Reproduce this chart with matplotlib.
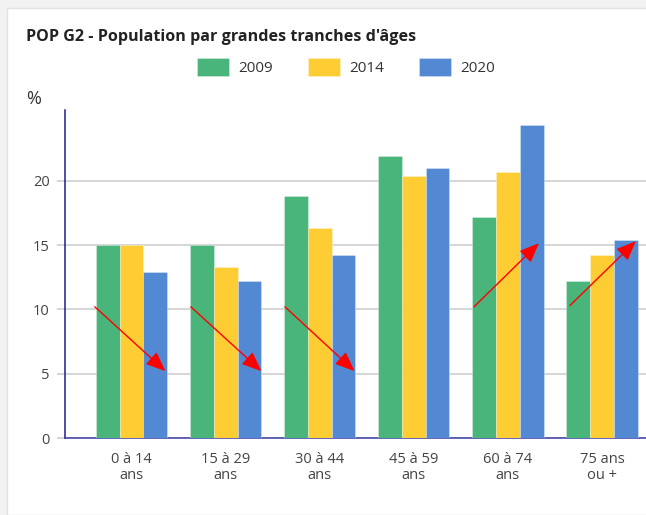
import numpy as np
import matplotlib.pyplot as plt
import matplotlib.patheffects as pe
from matplotlib.patches import Rectangle

# Data
categories = ["0 à 14\nans", "15 à 29\nans", "30 à 44\nans", "45 à 59\nans", "60 à 74\nans", "75 ans\nou +"]
years = ["2009", "2014", "2020"]
v2009 = [15.0, 15.0, 18.8, 21.9, 17.2, 12.2]
v2014 = [15.0, 13.3, 16.3, 20.4, 20.7, 14.2]
v2020 = [12.9, 12.2, 14.2, 21.0, 24.3, 15.4]
colors = ["#4ab57a", "#fecd34", "#5289d2"]

# trend arrows (x in category units, y in %)
arrow_starts = [(-0.39, 10.2), (0.63, 10.2), (1.63, 10.2), (3.64, 10.2), (4.66, 10.3)]
arrow_ends = [(0.36, 5.2), (1.38, 5.2), (2.37, 5.2), (4.33, 15.15), (5.36, 15.3)]

plt.rcParams['font.family'] = ['Open Sans', 'DejaVu Sans']

fig = plt.figure(figsize=(6.46, 5.15), dpi=100, facecolor='#f2f2f2')
# white card behind everything
fig.patches.append(Rectangle((7 / 646, 0), 1, 1 - 8 / 515, transform=fig.transFigure,
                             facecolor='white', edgecolor='#e2e2e2', linewidth=1, zorder=-10))

ax = fig.add_axes([65 / 646, 77 / 515, 1 - 65 / 646, 328 / 515])
ax.set_facecolor('none')

x = np.arange(len(categories))
w = 0.253
for i, (vals, c, lab) in enumerate(zip([v2009, v2014, v2020], colors, years)):
    ax.bar(x + (i - 1) * w, vals, width=w, color=c, label=lab,
           edgecolor=(1, 1, 1, 0.3), linewidth=0.7, zorder=3)

for s, e in zip(arrow_starts, arrow_ends):
    ax.annotate("", xy=e, xytext=s, zorder=5,
                arrowprops=dict(arrowstyle='-|>,head_length=0.8,head_width=0.33',
                                mutation_scale=15, color='#ff0000', lw=1.0,
                                shrinkA=0, shrinkB=0,
                                path_effects=[pe.withSimplePatchShadow(offset=(1.5, -2),
                                                                       shadow_rgbFace='#888888',
                                                                       alpha=0.25)]))

ax.set_xlim(-0.707, 5.468)
ax.set_ylim(0, 25.5)
ax.set_yticks([0, 5, 10, 15, 20])
ax.set_xticks(x)
ax.set_xticklabels(categories, linespacing=1.1)
ax.grid(axis='y', color='#cccccc', linewidth=1.1, zorder=0)
ax.set_axisbelow(True)

for sp in ['top', 'right']:
    ax.spines[sp].set_visible(False)
ax.spines['left'].set_color('#1c1c96')
ax.spines['bottom'].set_color('#3b3ba6')
ax.spines['left'].set_linewidth(1.1)
ax.spines['bottom'].set_linewidth(1.1)

ax.tick_params(axis='y', length=6, color='#cccccc', width=1.1, pad=5, labelsize=10.5, labelcolor='#444444')
ax.tick_params(axis='x', length=0, pad=10, labelsize=10.5, labelcolor='#444444')

fig.text(26 / 646, 1 - 40.7 / 515, "POP G2 - Population par grandes tranches d'âges",
         fontsize=11.6, fontweight='bold', color='#222222', va='baseline', ha='left')
fig.text(26 / 646, 1 - 99 / 515, "%", fontsize=13, color='#333333', va='center', ha='left')

fig.legend(loc='center', bbox_to_anchor=(346 / 646, 1 - 67 / 515), ncol=3, frameon=False,
           fontsize=11, handlelength=2.1, handleheight=1.45, handletextpad=0.6,
           columnspacing=2.3, borderpad=0, labelcolor='#333333')

fig.savefig('out.png', dpi=100, facecolor=fig.get_facecolor())
